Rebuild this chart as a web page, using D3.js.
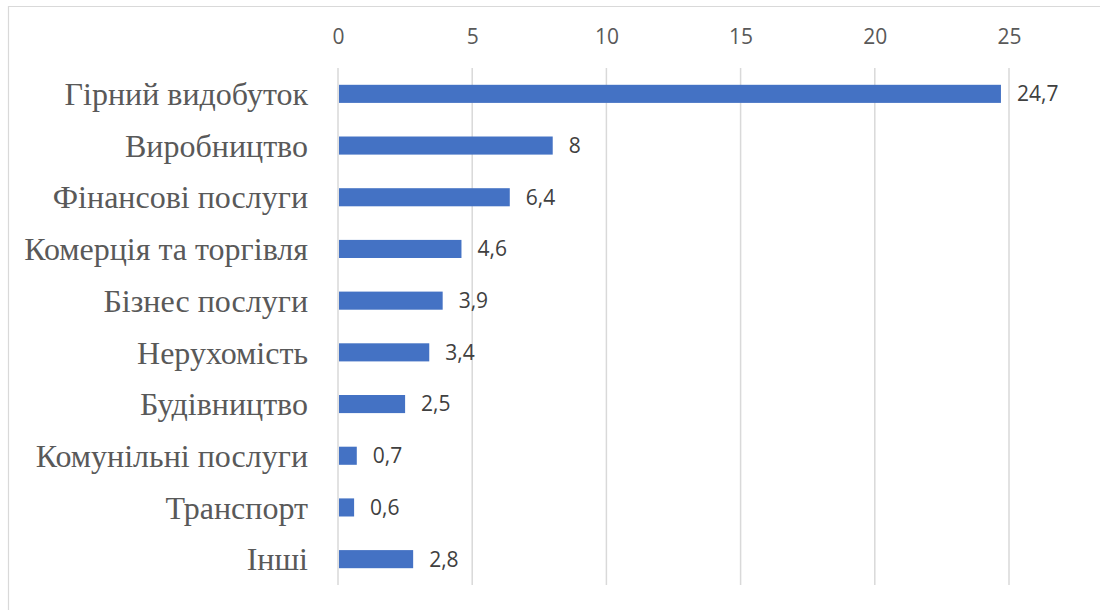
<!DOCTYPE html>
<html>
<head>
<meta charset="utf-8">
<script src="https://cdn.jsdelivr.net/npm/d3@7"></script>
<style>
  html, body { margin: 0; padding: 0; background: #fff; }
</style>
</head>
<body>
<div id="chart"></div>
<script>
// data
const CATEGORIES = ["Гірний видобуток", "Виробництво", "Фінансові послуги", "Комерція та торгівля",
  "Бізнес послуги", "Нерухомість", "Будівництво", "Комунільні послуги", "Транспорт", "Інші"];
const VALUES = [24.7, 8, 6.4, 4.6, 3.9, 3.4, 2.5, 0.7, 0.6, 2.8];
const TICKS = [0, 5, 10, 15, 20, 25];

const width = 1100, height = 610;
const plot = { left: 338, right: 1009, top: 68, bottom: 585 };

const svg = d3.select("#chart").append("svg")
  .attr("width", width)
  .attr("height", height);

// frame: only the top and left edges are visible (chart is cropped)
svg.append("path")
  .attr("d", "M8.5,610V6.5H1100")
  .attr("fill", "none")
  .attr("stroke", "#d9d9d9")
  .attr("stroke-width", 1.2);

const x = d3.scaleLinear().domain([0, 25]).range([plot.left, plot.right]);
const y = d3.scaleBand().domain(CATEGORIES).range([plot.top, plot.bottom]).paddingInner(0.65).paddingOuter(0.325);

// gridlines
svg.append("g")
  .selectAll("line")
  .data(TICKS)
  .join("line")
  .attr("x1", d => x(d)).attr("x2", d => x(d))
  .attr("y1", plot.top).attr("y2", plot.bottom)
  .attr("stroke", "#d9d9d9")
  .attr("stroke-width", 1.5);

// top axis labels
const axis = d3.axisTop(x).tickValues(TICKS).tickSize(0).tickPadding(0);
const ax = svg.append("g")
  .attr("transform", "translate(0,44)")
  .call(axis);
ax.select(".domain").remove();
ax.selectAll("text")
  .attr("font-family", "'Open Sans', 'Liberation Sans', sans-serif")
  .attr("font-size", 21)
  .attr("fill", "#595959");

// category labels
svg.append("g")
  .selectAll("text")
  .data(CATEGORIES)
  .join("text")
  .attr("x", 308)
  .attr("y", d => y(d) + y.bandwidth() / 2)
  .attr("dy", "0.35em")
  .attr("text-anchor", "end")
  .attr("font-family", "'Liberation Serif', 'DejaVu Serif', serif")
  .attr("font-size", 32)
  .attr("fill", "#595959")
  .text(d => d);

// bars
svg.append("g")
  .selectAll("rect")
  .data(VALUES)
  .join("rect")
  .attr("x", x(0) + 1)
  .attr("y", (d, i) => y(CATEGORIES[i]))
  .attr("width", d => x(d) - x(0) - 1)
  .attr("height", y.bandwidth())
  .attr("fill", "#4472c4");

// value labels
svg.append("g")
  .selectAll("text")
  .data(VALUES)
  .join("text")
  .attr("x", d => x(d) + 16)
  .attr("y", (d, i) => y(CATEGORIES[i]) + y.bandwidth() / 2)
  .attr("dy", "0.35em")
  .attr("font-family", "'Open Sans', 'Liberation Sans', sans-serif")
  .attr("font-size", 21)
  .attr("fill", "#404040")
  .text(d => String(d).replace(".", ","));
</script>
</body>
</html>
